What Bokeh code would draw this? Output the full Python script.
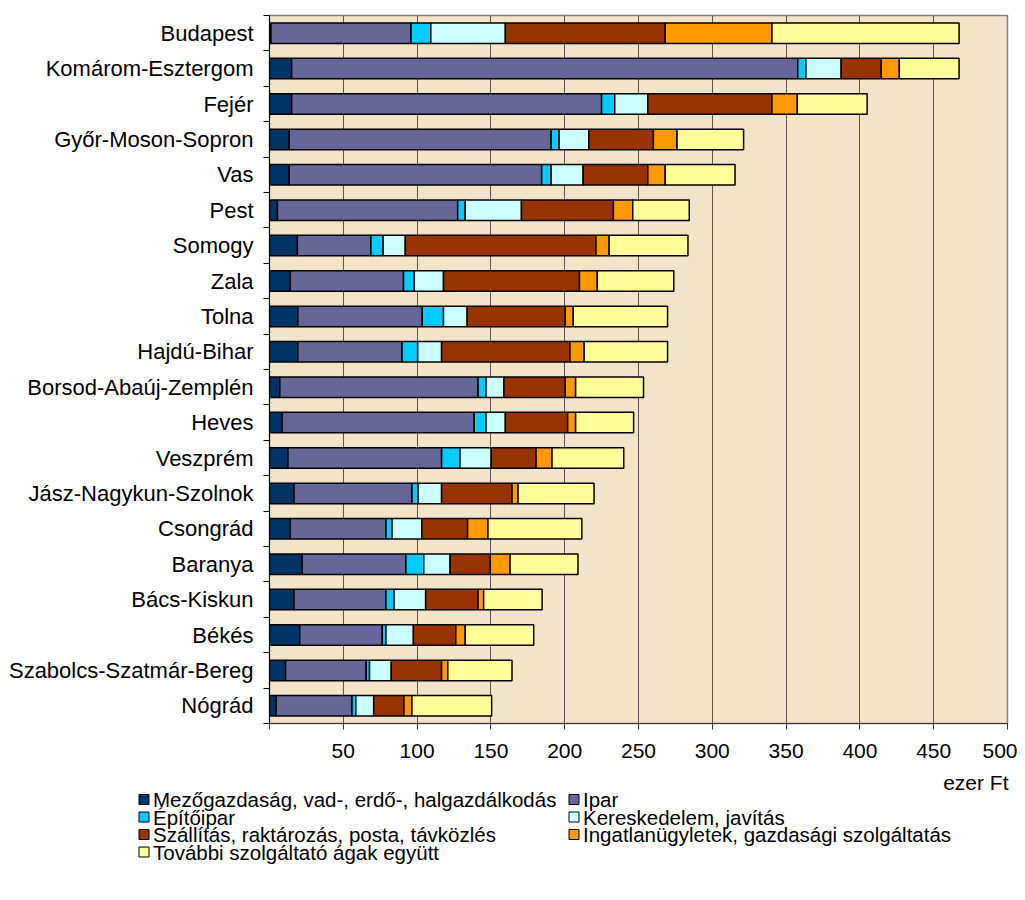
from bokeh.plotting import figure
from bokeh.models import Range1d, FixedTicker, ColumnDataSource
from bokeh.core.properties import value
from bokeh.embed import file_html
from bokeh.resources import INLINE

categories = ["Budapest", "Komárom-Esztergom", "Fejér", "Győr-Moson-Sopron", "Vas",
              "Pest", "Somogy", "Zala", "Tolna", "Hajdú-Bihar",
              "Borsod-Abaúj-Zemplén", "Heves", "Veszprém", "Jász-Nagykun-Szolnok",
              "Csongrád", "Baranya", "Bács-Kiskun", "Békés",
              "Szabolcs-Szatmár-Bereg", "Nógrád"]

mezogazdasag = [1.0, 15.0, 15.0, 13.4, 13.4, 5.4, 18.9, 14.1, 19.2, 19.2,
                7.0, 8.6, 12.5, 16.6, 14.1, 22.1, 16.6, 20.5, 10.9, 4.5]
ipar = [94.9, 342.9, 210.0, 177.4, 171.0, 122.1, 49.8, 76.7, 84.3, 70.6,
        134.3, 130.1, 104.1, 79.9, 64.8, 70.3, 62.3, 55.9, 54.6, 51.4]
epitoipar = [13.4, 5.5, 8.9, 5.4, 6.4, 5.1, 8.3, 7.3, 14.4, 10.6,
             5.4, 8.0, 12.5, 4.2, 4.2, 12.1, 5.5, 2.5, 2.3, 2.6]
kereskedelem = [50.5, 23.9, 22.4, 20.2, 21.7, 38.1, 15.0, 19.8, 16.0, 16.2,
                12.1, 13.1, 21.1, 15.9, 20.1, 17.9, 21.4, 18.6, 14.7, 12.1]
szallitas = [108.3, 27.2, 84.1, 43.7, 43.8, 62.3, 129.2, 92.1, 66.5, 87.0,
             41.6, 42.2, 30.4, 47.7, 31.0, 27.2, 35.5, 28.7, 34.1, 20.5]
ingatlan = [72.3, 12.2, 17.2, 16.0, 11.8, 13.1, 8.9, 12.1, 5.4, 9.6,
            7.0, 5.4, 10.8, 4.1, 13.8, 13.4, 3.8, 6.4, 4.2, 5.4]
tovabbi = [126.8, 40.5, 47.3, 45.1, 47.3, 38.3, 53.4, 51.8, 63.9, 56.5,
           46.0, 39.3, 48.6, 51.5, 63.6, 46.0, 39.6, 46.4, 43.5, 54.0]

series_names = ["Mezőgazdaság, vad-, erdő-, halgazdálkodás", "Ipar", "Építőipar",
                "Kereskedelem, javítás", "Szállítás, raktározás, posta, távközlés",
                "Ingatlanügyletek, gazdasági szolgáltatás",
                "További szolgáltató ágak együtt"]
series_keys = ["mezo", "ipar", "epito", "keresk", "szall", "ingatlan", "tovabbi"]
colors = ["#003366", "#666699", "#00CCFF", "#CCFFFF", "#993300", "#FF9900", "#FFFF99"]
x_ticks = [0, 50, 100, 150, 200, 250, 300, 350, 400, 450, 500]
x_unit = "ezer Ft"

FONT = "Liberation Sans"
FS = "21px"
TOTAL_W = 1017

source = ColumnDataSource(dict(
    y=list(range(len(categories))),
    mezo=mezogazdasag, ipar=ipar, epito=epitoipar, keresk=kereskedelem,
    szall=szallitas, ingatlan=ingatlan, tovabbi=tovabbi))

n = len(categories)
PH = 771
p = figure(width=TOTAL_W, height=PH,
           x_range=Range1d(0, 500), y_range=Range1d(n - 0.5, -0.5),
           output_backend="svg", toolbar_location=None,
           min_border_left=269, min_border_right=10, min_border_top=15,
           min_border_bottom=48)
p.background_fill_color = "#F2E4C8"
p.border_fill_color = "white"
p.outline_line_color = "#808080"
p.outline_line_width = 1.5

renderers = p.hbar_stack(series_keys, y="y", height=0.58, color=colors,
                         line_color="black", line_width=1.5, source=source)

# grid
p.xgrid.ticker = FixedTicker(ticks=x_ticks)
p.xgrid.grid_line_color = "#555555"
p.xgrid.grid_line_width = 1
p.ygrid.grid_line_color = None

# x axis
xa = p.xaxis[0]
xa.ticker = FixedTicker(ticks=x_ticks)
xa.major_label_overrides = {0: ""}
xa.major_label_text_font = FONT
xa.major_label_text_font_size = FS
xa.major_label_text_color = "black"
xa.major_tick_out = 6
xa.major_tick_in = 0
xa.minor_tick_line_color = None
xa.major_label_standoff = 14
xa.axis_line_color = "#333333"
xa.major_tick_line_color = "#333333"

# y axis
ya = p.yaxis[0]
ya.ticker = FixedTicker(ticks=list(range(n)),
                        minor_ticks=[i - 0.5 for i in range(n + 1)])
ya.major_label_overrides = {i: c for i, c in enumerate(categories)}
ya.major_label_text_font = FONT
ya.major_label_text_font_size = "22px"
ya.major_label_text_color = "black"
ya.major_tick_out = 0
ya.major_tick_in = 0
ya.major_tick_line_color = None
ya.minor_tick_out = 6
ya.minor_tick_in = 0
ya.minor_tick_line_color = "black"
ya.axis_line_color = "black"
ya.major_label_standoff = 10

# lower panel: unit label and legend (two columns, row-major order)
LH = 120
lg = figure(width=TOTAL_W, height=LH, x_range=Range1d(0, TOTAL_W),
            y_range=Range1d(LH, 0), output_backend="svg", toolbar_location=None,
            x_axis_location=None, y_axis_location=None, min_border=0)
lg.grid.visible = False
lg.outline_line_color = None
lg.background_fill_color = "white"
lg.border_fill_color = "white"

lg.text(x=[1008], y=[11], text=[x_unit], text_font=value(FONT), text_font_size=FS,
        text_baseline="middle", text_align="right", text_color="black")

col_x = [143.5, 573.5]
row_y0, row_step = 28.0, 17.5
mx, my, tx = [], [], []
for i in range(len(series_names)):
    r, c = divmod(i, 2)
    mx.append(col_x[c])
    my.append(row_y0 + r * row_step)
    tx.append(col_x[c] + 9)
lsrc = ColumnDataSource(dict(x=mx, y=my, tx=tx, label=series_names, color=colors))
lg.rect(x="x", y="y", width=10, height=10, width_units="screen",
        height_units="screen", fill_color="color", line_color="black",
        line_width=1, source=lsrc)
lg.text(x="tx", y="y", text="label", source=lsrc, text_font=value(FONT),
        text_font_size="20.5px", text_baseline="middle", text_align="left",
        text_color="black")

open("out.html", "w").write(file_html([p, lg], INLINE))
